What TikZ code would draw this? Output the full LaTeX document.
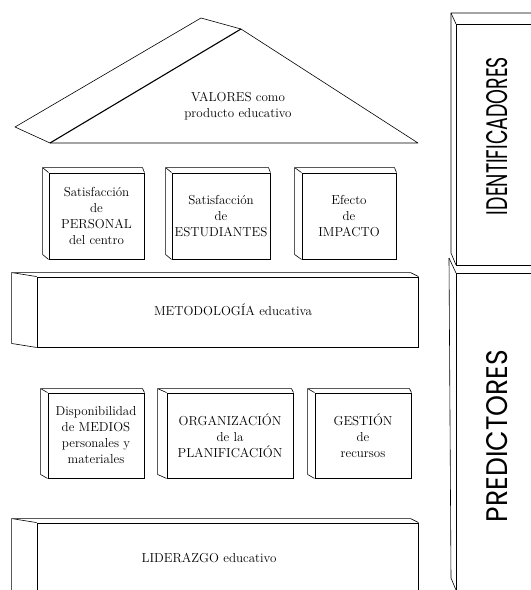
\documentclass[tikz,border=0pt]{standalone}
\usepackage{fontspec}
\usepackage{graphicx}
\newfontfamily\gothic{Poppins}
\usetikzlibrary{calc}
\tikzset{
  frontbox/.style={draw, line width=0.9pt, rectangle, inner sep=0pt, align=center,
     font=\fontsize{13}{16}\selectfont},
  sideline/.style={draw, line width=0.6pt, line join=round},
  lbl/.style={align=center, font=\fontsize{13}{16}\selectfont, inner sep=0pt},
}
\newcommand\sidefaces[4]{% node, dx, dy, right-inset
  \draw[sideline] (#1.north east) -- ($(#1.north east)+(-#4,-#3)$) -- ($(#1.north west)+(-#2,-#3)$) -- (#1.north west);
  \draw[sideline] ($(#1.north west)+(-#2,-#3)$) -- ($(#1.south west)+(-#2,-#3)$) -- (#1.south west);
}
\begin{document}
\begin{tikzpicture}[x=1pt,y=-1pt]
\useasboundingbox (0,0) rectangle (531,590);
\clip (0,0) rectangle (531,590);

% roof
\coordinate (rl) at (50,143);
\coordinate (rt) at (241,29);
\coordinate (rr) at (418,143);
\coordinate (sl) at (15,127);
\coordinate (st) at (201,18);
\draw[line width=0.6pt, line join=round] (rl) -- (rr) -- (rt);
\draw[line width=1.1pt] (rl) -- (rt);
\draw[sideline] (rt) -- (st) -- (sl) -- (rl);
\node[lbl] (valores) at (238,106) {VALORES como\\producto educativo};

% identificadores row
\node[frontbox, minimum width=95pt, minimum height=86pt] (b1) at (96.5,216) {Satisfacción\\de\\PERSONAL\\del centro};
\node[frontbox, minimum width=98pt, minimum height=86pt] (b2) at (221,216) {Satisfacción\\de\\ESTUDIANTES};
\node[frontbox, minimum width=94pt, minimum height=86pt] (b3) at (349,216) {Efecto\\de\\IMPACTO};
\sidefaces{b1}{6}{5}{2}
\sidefaces{b2}{6}{5}{2}
\sidefaces{b3}{7}{5}{2}

% metodologia
\node[frontbox, minimum width=381pt, minimum height=70pt] (met) at (227.5,312) {};
\sidefaces{met}{25}{4}{8}
\node[lbl] (metl) at (233,310) {METODOLOGÍA educativa};

% predictores row
\node[frontbox, minimum width=96pt, minimum height=85pt] (b4) at (96,435.5) {Disponibilidad\\de MEDIOS\\personales y\\materiales};
\node[frontbox, minimum width=126pt, minimum height=85pt] (b5) at (230,435.5) {ORGANIZACIÓN\\de la\\PLANIFICACIÓN};
\node[frontbox, minimum width=96pt, minimum height=85pt] (b6) at (363,435.5) {GESTIÓN\\de\\recursos};
\sidefaces{b4}{7}{4}{2}
\sidefaces{b5}{9}{4}{2}
\sidefaces{b6}{7}{4}{2}

% liderazgo
\node[frontbox, minimum width=381pt, minimum height=90pt] (lid) at (227.5,568) {};
\sidefaces{lid}{25}{4}{8}
\node[lbl] (lidl) at (209,558) {LIDERAZGO educativo};

% right panels
\coordinate (i1) at (451,13);
\coordinate (i2) at (456,24);
\coordinate (i3) at (451,253);
\coordinate (i4) at (456,265);
\coordinate (p1) at (449,258);
\coordinate (p2) at (456,273);
\coordinate (p3) at (451,578);
\coordinate (p4) at (456,590);
\coordinate (e1) at (535,13);
\coordinate (e2) at (535,24);
\coordinate (e3) at (535,265);
\coordinate (e4) at (535,273);
\draw[sideline] (e1) -- (i1) -- (i3) -- (i4);
\draw[sideline] (i1) -- (i2);
\draw[line width=0.9pt] (e2) -- (i2) -- (i4) -- (e3);
\draw[sideline] (p1) -- (p3) -- (p4);
\draw[sideline] (p1) -- (p2);
\draw[line width=0.9pt] (e4) -- (p2) -- (p4);
\node[rotate=90, inner sep=0pt] (ident) at (497,136) {\resizebox{158pt}{21pt}{\gothic IDENTIFICADORES}};
\node[rotate=90, inner sep=0pt] (pred) at (497,436) {\resizebox{172pt}{21pt}{\gothic PREDICTORES}};
\end{tikzpicture}
\end{document}
